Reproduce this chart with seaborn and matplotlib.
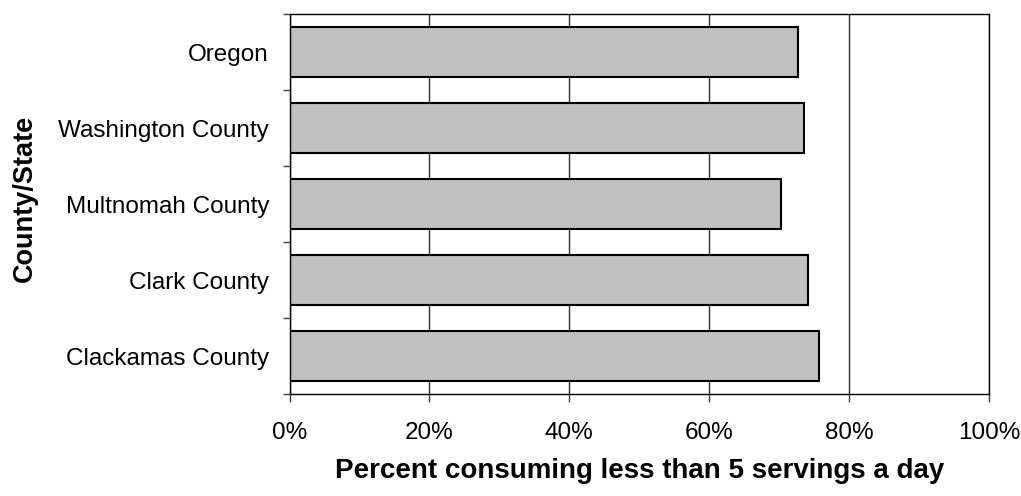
import pandas as pd
import matplotlib
matplotlib.use("Agg")
import matplotlib.pyplot as plt
from matplotlib.ticker import FixedLocator, FuncFormatter
import seaborn as sns

# values (percent)
areas = ["Oregon", "Washington County", "Multnomah County",
         "Clark County", "Clackamas County"]
pct_less_than_5 = [72.7, 73.5, 70.3, 74.1, 75.7]
x_ticks = [0, 20, 40, 60, 80, 100]

df = pd.DataFrame({"Area": areas, "Percent": pct_less_than_5})

sns.set_style("white")
plt.rcParams["font.family"] = ["Liberation Sans", "DejaVu Sans"]
plt.rcParams["text.color"] = "black"
plt.rcParams["axes.labelcolor"] = "black"
plt.rcParams["xtick.color"] = "black"
plt.rcParams["ytick.color"] = "black"

fig = plt.figure(figsize=(10.21, 4.96), dpi=100)
ax = fig.add_axes([0.2836, 0.2056, 0.6850, 0.7661])

# vertical grid lines behind the bars
ax.set_axisbelow(True)
ax.grid(axis="x", color="#303030", linewidth=1)

sns.barplot(data=df, x="Percent", y="Area", orient="h", order=areas,
            color="#C0C0C0", saturation=1, width=0.66,
            edgecolor="black", linewidth=1.5, ax=ax)

ax.set_xlim(0, 100)
ax.set_ylim(len(areas) - 0.5, -0.5)
ax.xaxis.set_major_locator(FixedLocator(x_ticks))
ax.xaxis.set_major_formatter(FuncFormatter(lambda v, p: f"{v:.0f}%"))

# category boundaries get the little ticks, names sit between them
ax.yaxis.set_minor_locator(FixedLocator([i - 0.5 for i in range(len(areas) + 1)]))
ax.tick_params(axis="y", which="major", length=0, pad=14.8, labelsize=17.5)
ax.tick_params(axis="y", which="minor", left=True, length=5, width=1, color="#404040")
ax.tick_params(axis="x", which="major", bottom=True, length=5.8, width=1,
               color="#404040", pad=14.5, labelsize=17.5)

for s in ax.spines.values():
    s.set_color("black")
    s.set_linewidth(1)

ax.set_xlabel("Percent consuming less than 5 servings a day",
              fontsize=20, fontweight="bold", va="top")
ax.xaxis.set_label_coords(0.5, -0.168)
ax.set_ylabel("County/State", fontsize=19.5, fontweight="bold")
ax.yaxis.set_label_coords(-0.36, 0.515)

fig.savefig("out.png", dpi=100)
plt.close()
